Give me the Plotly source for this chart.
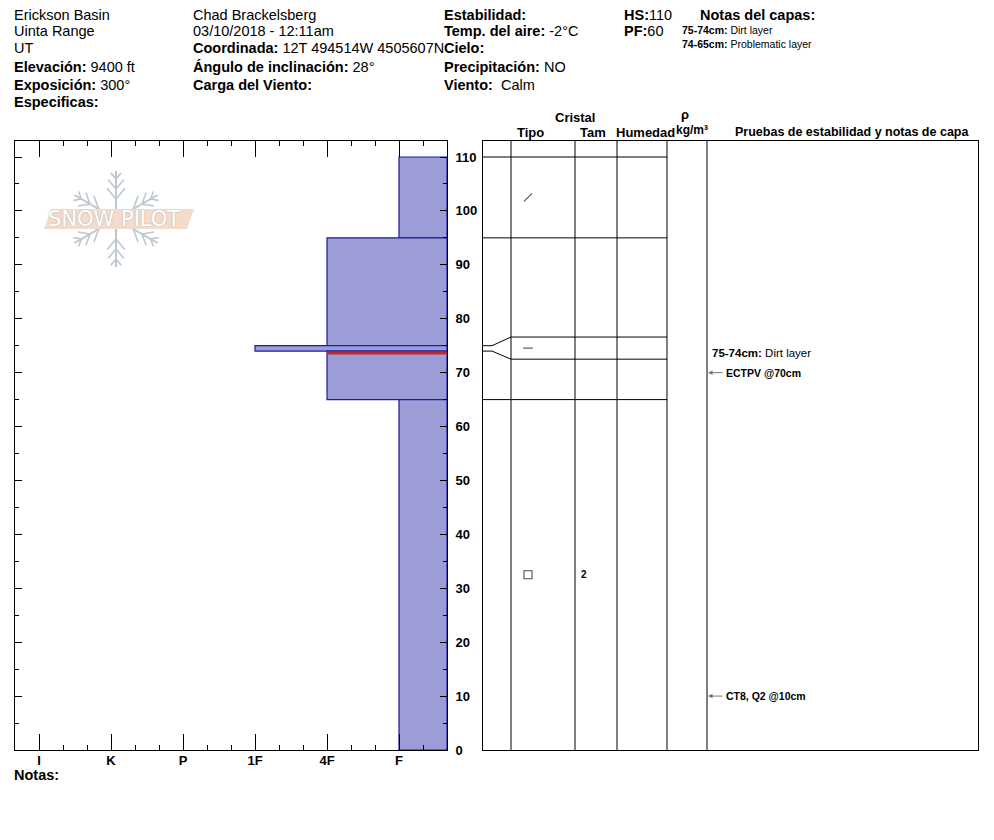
import math
import plotly.graph_objects as go

# page body has an 8px margin; figure coordinates are offset accordingly
OFF = 8
W, H = 986, 840
HR = 832  # effective drawn height


def px(x):
    return (x - OFF) / W


def py(y):
    return 1 - (y - OFF) / HR


FONT = "Liberation Sans, Arial, sans-serif"

# ---------------- data ----------------
hardness_labels = ["F", "4F", "1F", "P", "K", "I"]
hardness_values = [1, 2, 3, 4, 5, 6]
depth_ticks = [0, 10, 20, 30, 40, 50, 60, 70, 80, 90, 100, 110]

layer_top = [110, 95, 75, 74, 65]
layer_bottom = [95, 75, 74, 65, 0]
layer_hardness = ["F", "4F", "1F", "4F", "F"]

# boundaries drawn in the crystal table (thin layer spread apart for legibility)
boundary_actual = [110, 95, 75, 74, 65]
boundary_display = [110, 95, 76.6, 72.5, 65]

grain_symbol = ["line-ne", None, "line-ew", None, "square-open"]
grain_size = ["", "", "", "", "2"]

problem_layer_depth = 73.6
problem_layer_hardness = "4F"

stability_tests = ["ECTPV @70cm", "CT8, Q2 @10cm"]
stability_depths = [70, 10]

layer_comment_range = ["75-74cm:"]
layer_comment_text = ["Dirt layer"]
layer_comment_depth = [73.6]

header_notes_range = ["75-74cm:", "74-65cm:"]
header_notes_text = ["Dirt layer", "Problematic layer"]

Y_MAX = 112.97
EDGE = 1 / 3
hmap = dict(zip(hardness_labels, hardness_values))

fig = go.Figure()

# ---------------- hardness profile ----------------
fig.add_trace(go.Bar(
    orientation="h",
    y=[(t + b) / 2 for t, b in zip(layer_top, layer_bottom)],
    x=[hmap[h] - EDGE for h in layer_hardness],
    base=EDGE,
    width=[t - b for t, b in zip(layer_top, layer_bottom)],
    marker=dict(color="#9c9cd6", line=dict(color="#1c1c9e", width=1.2)),
    xaxis="x", yaxis="y", hoverinfo="skip", showlegend=False,
))
fig.add_trace(go.Scatter(
    x=[EDGE, hmap[problem_layer_hardness]],
    y=[problem_layer_depth, problem_layer_depth],
    mode="lines", line=dict(color="#c0282d", width=2.4),
    xaxis="x", yaxis="y", hoverinfo="skip", showlegend=False,
))

# ---------------- crystal table ----------------
COLS = [28, 92, 134, 184, 224]  # column edges (x2 units, 0 = left frame)
lx, ly = [], []
for a, d in zip(boundary_actual, boundary_display):
    if a == d:
        lx += [0, COLS[3], None]
        ly += [a, a, None]
    else:
        lx += [0, 9, COLS[0], COLS[3], None]
        ly += [a, a, d, d, None]
fig.add_trace(go.Scatter(x=lx, y=ly, mode="lines", line=dict(color="black", width=1),
                         xaxis="x2", yaxis="y2", hoverinfo="skip", showlegend=False))

# grain type symbols and sizes at mid-layer (display positions)
sym_x, sym_y, sym_s, sym_sz = [], [], [], []
for i, s in enumerate(grain_symbol):
    top = boundary_display[i]
    bot = boundary_display[i + 1] if i + 1 < len(boundary_display) else 0
    mid = (top + bot) / 2
    if s:
        sym_x.append(45)
        sym_y.append(mid)
        sym_s.append(s)
        sym_sz.append(8 if s != "line-ew" else 7)
    if grain_size[i]:
        fig.add_annotation(x=96, y=mid, xref="x2", yref="y2", text="<b>%s</b>" % grain_size[i],
                           showarrow=False, xanchor="left", yanchor="middle",
                           font=dict(family=FONT, size=10, color="black"))
fig.add_trace(go.Scatter(
    x=sym_x, y=sym_y, mode="markers",
    marker=dict(symbol=sym_s, size=sym_sz, color="black", line=dict(color="black", width=1.1)),
    xaxis="x2", yaxis="y2", hoverinfo="skip", showlegend=False,
))

# column lines
for c in COLS:
    fig.add_shape(type="line", xref="x2", yref="paper", x0=c, x1=c, y0=py(750), y1=py(141),
                  line=dict(color="black", width=1))

# stability tests
for t, d in zip(stability_tests, stability_depths):
    fig.add_annotation(x=COLS[4] + 1, y=d, ax=COLS[4] + 17, ay=d, xref="x2", yref="y2",
                       axref="x2", ayref="y2", text="", showarrow=True, arrowhead=2,
                       arrowsize=0.9, arrowwidth=1, arrowcolor="#777")
    fig.add_annotation(x=COLS[4] + 17, y=d, xref="x2", yref="y2", text="<b>%s</b>" % t,
                       showarrow=False, xanchor="left", yanchor="middle",
                       font=dict(family=FONT, size=10.5, color="black"))
for r, t, d in zip(layer_comment_range, layer_comment_text, layer_comment_depth):
    fig.add_annotation(x=COLS[4] + 3, y=d, xref="x2", yref="y2", text="<b>%s</b> %s" % (r, t),
                       showarrow=False, xanchor="left", yanchor="middle",
                       font=dict(family=FONT, size=11.5, color="black"))

# ---------------- axes ----------------
minor_hard = [EDGE + k / 3 for k in range(0, 19)]
minor_hard = [v for v in minor_hard if abs(v - round(v)) > 1e-6]
axis_common = dict(showgrid=False, zeroline=False, linecolor="black", linewidth=1,
                   tickcolor="black", fixedrange=True)
fig.update_layout(
    width=W, height=H, margin=dict(l=0, r=0, t=0, b=0),
    paper_bgcolor="white", plot_bgcolor="rgba(0,0,0,0)", showlegend=False,
    barmode="overlay",
    xaxis=dict(domain=[px(15), px(447)], range=[6 + EDGE, EDGE], anchor="y",
               tickmode="array", tickvals=hardness_values, ticktext=hardness_labels,
               ticks="inside", ticklen=16, showline=True, mirror="ticks",
               ticklabelstandoff=-2,
               minor=dict(tickmode="array", tickvals=minor_hard, ticks="inside", ticklen=5,
                          tickcolor="black"),
               tickfont=dict(family=FONT, size=13, color="black", weight="bold"),
               **axis_common),
    yaxis=dict(domain=[py(750), py(141)], range=[0, Y_MAX], anchor="x", side="right",
               tickmode="array", tickvals=depth_ticks, ticks="inside", ticklen=7,
               showline=True, mirror="ticks", ticklabelstandoff=5,
               minor=dict(dtick=5, ticks="inside", ticklen=4, tickcolor="black"),
               tickfont=dict(family=FONT, size=13, color="black", weight="bold"),
               **axis_common),
    xaxis2=dict(domain=[px(483), px(978)], range=[0, 495], anchor="y2", showline=True,
                mirror=True, ticks="", showticklabels=False, **axis_common),
    yaxis2=dict(domain=[py(750), py(141)], range=[0, Y_MAX], anchor="x2", showline=True,
                mirror=True, ticks="", showticklabels=False, **axis_common),
    yaxis3=dict(overlaying="y2", anchor="free", position=px(511), side="left",
                range=[0, Y_MAX], tickmode="array", tickvals=depth_ticks, ticks="inside",
                ticklen=7, showline=False, showticklabels=False,
                minor=dict(dtick=5, ticks="inside", ticklen=4, tickcolor="black"),
                **axis_common),
    yaxis4=dict(overlaying="y2", anchor="free", position=px(707), side="right",
                range=[0, Y_MAX], tickmode="array", tickvals=depth_ticks, ticks="inside",
                ticklen=7, showline=False, showticklabels=False,
                minor=dict(dtick=5, ticks="inside", ticklen=4, tickcolor="black"),
                **axis_common),
)


# ---------------- header text ----------------
def ann(x, y, text, size=14.5, xanchor="left"):
    fig.add_annotation(x=px(x), y=py(y), xref="paper", yref="paper", text=text,
                       showarrow=False, xanchor=xanchor, yanchor="middle",
                       font=dict(family=FONT, size=size, color="black"))


rows = [14.5, 30.5, 48.5, 66.5, 84.5, 102.5]
col1 = ["Erickson Basin", "Uinta Range", "UT", "<b>Elevación:</b> 9400 ft",
        "<b>Exposición:</b> 300°", "<b>Especificas:</b>"]
col2 = ["Chad Brackelsberg", "03/10/2018 - 12:11am", "<b>Coordinada:</b> 12T 494514W 4505607N",
        "<b>Ángulo de inclinación:</b> 28°", "<b>Carga del Viento:</b>"]
col3 = ["<b>Estabilidad:</b>", "<b>Temp. del aire:</b> -2°C", "<b>Cielo:</b>",
        "<b>Precipitación:</b> NO", "<b>Viento:</b>  Calm"]
for r, t in zip(rows, col1):
    ann(12, r, t)
for r, t in zip(rows, col2):
    ann(191, r, t)
for r, t in zip(rows, col3):
    ann(442, r, t)
ann(622, rows[0], "<b>HS:</b>110")
ann(622, rows[1], "<b>PF:</b>60")
ann(698, rows[0], "<b>Notas del capas:</b>")
for i, (r, t) in enumerate(zip(header_notes_range, header_notes_text)):
    ann(680, 30 + 14 * i, "<b>%s</b> %s" % (r, t), size=10.5)

# column headers
ann(575, 117, "<b>Cristal</b>", 13, "center")
ann(685, 114, "<b>ρ</b>", 13, "center")
ann(530, 132, "<b>Tipo</b>", 13, "center")
ann(593, 132, "<b>Tam</b>", 13, "center")
ann(645, 132, "<b>Humedad</b>", 13, "center")
ann(692, 130, "<b>kg/m³</b>", 12, "center")
ann(852, 132, "<b>Pruebas de estabilidad y notas de capa</b>", 12.5, "center")
ann(12, 775, "<b>Notas:</b>")

# ---------------- logo watermark ----------------
cx, cy, R = 116, 219, 48
flake = "#bcc8d0"
for ang in [90, 30, -30, -90, 150, 210]:
    a = math.radians(ang)
    ux, uy = math.cos(a), -math.sin(a)
    fig.add_shape(type="line", xref="paper", yref="paper",
                  x0=px(cx + 6 * ux), y0=py(cy + 6 * uy), x1=px(cx + R * ux), y1=py(cy + R * uy),
                  line=dict(color=flake, width=2), layer="above")
    for rr, ll in [(20, 14), (30, 12), (40, 8)]:
        bx, by = cx + rr * ux, cy + rr * uy
        for s in (1, -1):
            b = a + s * math.radians(40)
            fig.add_shape(type="line", xref="paper", yref="paper",
                          x0=px(bx), y0=py(by),
                          x1=px(bx + ll * math.cos(b)), y1=py(by - ll * math.sin(b)),
                          line=dict(color=flake, width=1.6), layer="above")
fig.add_shape(type="path", xref="paper", yref="paper",
              path="M %f %f L %f %f L %f %f L %f %f Z" % (px(51), py(209), px(194), py(209),
                                                           px(187), py(229), px(44), py(229)),
              fillcolor="#f3dccb", line=dict(width=0), layer="above")
fig.add_annotation(x=px(114), y=py(219), xref="paper", yref="paper", text="SNOW PILOT",
                   showarrow=False, xanchor="center", yanchor="middle",
                   font=dict(family="DejaVu Sans, sans-serif", size=21, color="white",
                             shadow="0px 0px 1.5px #9aa6b0"))

fig.write_html("out.html")
